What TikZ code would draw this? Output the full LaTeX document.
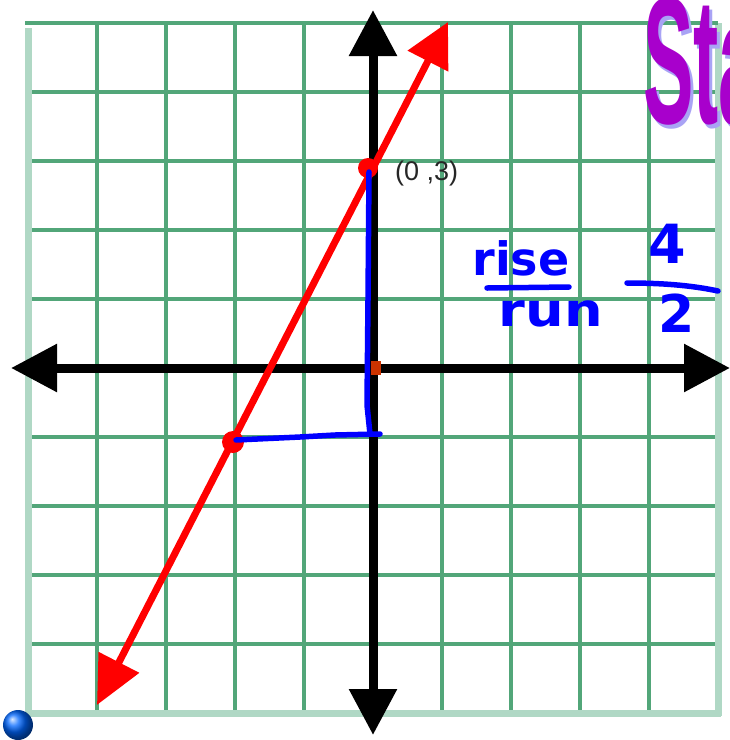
\documentclass[tikz,border=0pt]{standalone}
\usepackage{fontspec}
\setmainfont{Liberation Sans}
\newfontfamily\djv{DejaVu Sans}
\usetikzlibrary{arrows.meta}
\definecolor{gridd}{HTML}{52A679}
\definecolor{gridl}{HTML}{B0D8C5}
\definecolor{redl}{HTML}{FF0000}
\definecolor{bluel}{HTML}{0000FF}
\definecolor{purp}{HTML}{A800CC}
\definecolor{lav}{HTML}{A9A3F5}
\definecolor{origc}{HTML}{CC3300}
\tikzset{
  gridline/.style={draw=gridd, line width=4.5pt},
  gridedge/.style={draw=gridl, line width=7pt},
  axisline/.style={draw=black, line width=9pt, {Triangle[length=46pt,width=46pt]}-{Triangle[length=46pt,width=46pt]}},
  redline/.style={draw=redl, line width=7pt, {Triangle[length=48pt,width=44pt]}-{Triangle[length=44pt,width=44pt]}},
  bluestroke/.style={draw=bluel, line width=5.5pt, line cap=round, line join=round},
  hand/.style={text=bluel, inner sep=0pt, font=\djv\bfseries\fontsize{46}{46}\selectfont},
}
\begin{document}
\begin{tikzpicture}[x=1pt,y=-1pt]
\useasboundingbox (0,0) rectangle (730,740);
\begin{scope}
\clip (0,0) rectangle (730,740);
% grid
\foreach \i in {1,...,9} {
  \draw[gridline] ({28+69*\i},23) -- ({28+69*\i},713);
  \draw[gridline] (25,{23+69*\i}) -- (718,{23+69*\i});
}
\draw[gridedge] (28,28) -- (28,716);
\draw[gridedge] (25,713) -- (721,713);
\draw[gridedge] (718,23) -- (718,716);
\draw[draw=gridd, line width=4pt] (25,23) -- (718,23);
% axes
\coordinate (xl) at (11,368);
\coordinate (xr) at (730,368);
\coordinate (yt) at (373,10);
\coordinate (yb) at (373,735);
\draw[axisline] (xl) -- (xr);
\draw[axisline] (yb) -- (yt);
% red line
\coordinate (rA) at (97,705);
\coordinate (rB) at (448,22);
\draw[redline] (rA) -- (rB);
\fill[redl] (368,168) circle (10);
\fill[redl] (233,442) circle (11);
% origin mark
\fill[origc] (371,361) rectangle (381,375);
% blue triangle legs
\draw[bluestroke] (369,172) -- (368,300) -- (367,405) -- (370,434);
\draw[bluestroke] (236,440) -- (300,437) -- (335,435) -- (380,434);
% label
\node[anchor=base west, inner sep=0pt, text=black!85, font=\fontsize{27}{27}\selectfont] (lbl) at (395,180) {(0 ,3)};
% handwriting
\node[hand, anchor=base] (rise) at (521,275) {rise};
\node[hand, anchor=base] (run) at (551,326) {\scalebox{1.18}[1]{run}};
\draw[bluestroke] (487,288) -- (569,287);
\node[hand, anchor=base, font=\djv\bfseries\fontsize{54}{54}\selectfont] (four) at (667,263) {4};
\node[hand, anchor=base, font=\djv\bfseries\fontsize{52}{52}\selectfont] (two) at (677,332) {2};
\draw[bluestroke] (627,283) .. controls (660,283) and (690,285) .. (718,291);
% Sta title
\node[anchor=base west, inner sep=0pt, text=lav, font=\bfseries\fontsize{180}{180}\selectfont] (stash) at (646,127) {\scalebox{0.42}[1]{Sta}};
\node[anchor=base west, inner sep=0pt, text=purp, font=\bfseries\fontsize{180}{180}\selectfont] (sta) at (643,123) {\scalebox{0.42}[1]{Sta}};
% globe icon
\shade[ball color=blue!60!cyan] (18,725) circle (15);
\end{scope}
\end{tikzpicture}
\end{document}
